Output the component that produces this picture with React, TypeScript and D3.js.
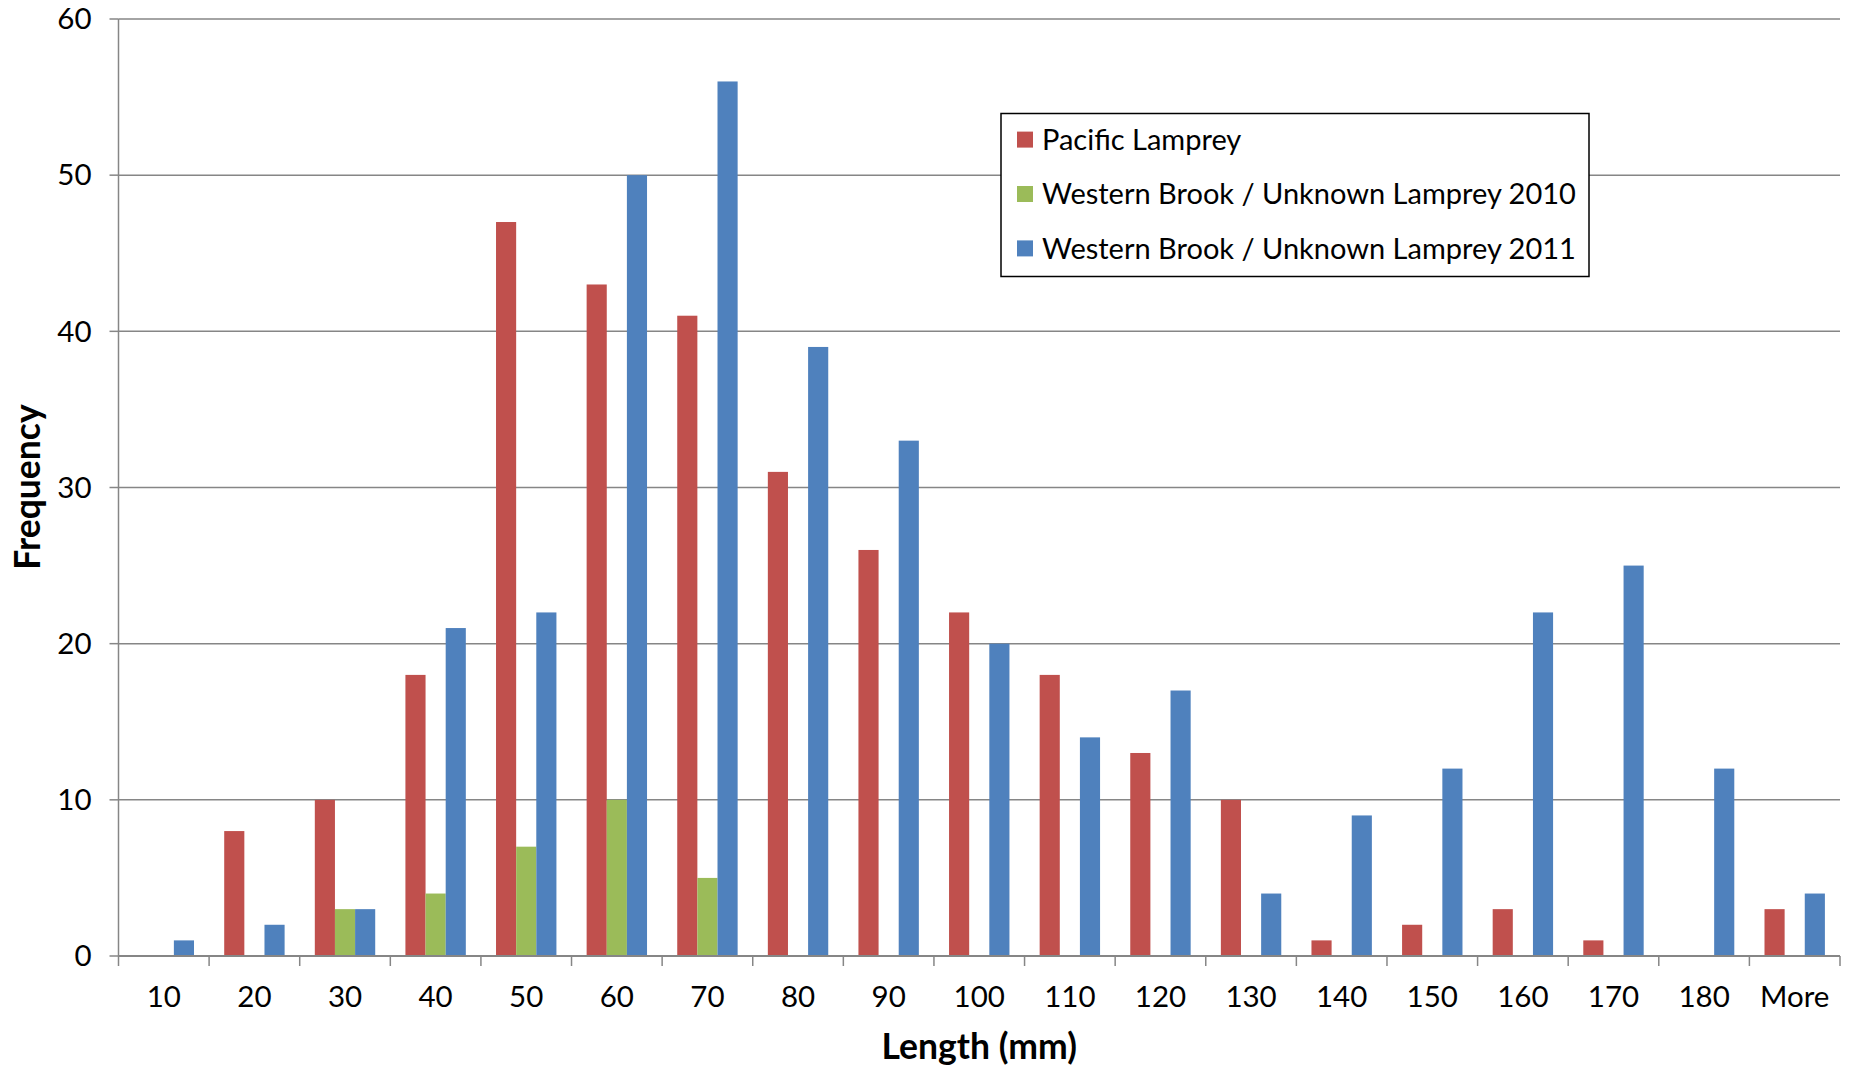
import React from "react";
import * as d3 from "d3";

const categories = ["10", "20", "30", "40", "50", "60", "70", "80", "90", "100", "110", "120", "130", "140", "150", "160", "170", "180", "More"];
const pacific = [0, 8, 10, 18, 47, 43, 41, 31, 26, 22, 18, 13, 10, 1, 2, 3, 1, 0, 3];
const western2010 = [0, 0, 3, 4, 7, 10, 5, 0, 0, 0, 0, 0, 0, 0, 0, 0, 0, 0, 0];
const western2011 = [1, 2, 3, 21, 22, 50, 56, 39, 33, 20, 14, 17, 4, 9, 12, 22, 25, 12, 4];
const seriesNames = ["Pacific Lamprey", "Western Brook / Unknown Lamprey 2010", "Western Brook / Unknown Lamprey 2011"];
const seriesColors = ["#C0504D", "#9BBB59", "#4F81BD"];
const yTicks = [0, 10, 20, 30, 40, 50, 60];

const W = 1855;
const H = 1070;
const margin = { left: 118.5, right: 15, top: 19, bottom: 114 };
const FONT = "Lato, 'Open Sans', sans-serif";

export default function App() {
  const series = [pacific, western2010, western2011];
  const x0 = d3.scaleBand<string>().domain(categories).range([margin.left, W - margin.right]).paddingInner(0).paddingOuter(0);
  // Excel-style 150% gap: the bar group takes 3 of 4.5 slots
  const groupPad = (x0.bandwidth() * 1.5) / 4.5 / 2;
  const x1 = d3.scaleBand<number>().domain([0, 1, 2]).range([groupPad, x0.bandwidth() - groupPad]).padding(0);
  const y = d3.scaleLinear().domain([0, 60]).range([H - margin.bottom, margin.top]);
  const plotLeft = margin.left;
  const plotRight = W - margin.right;
  const base = y(0);
  const tickEdges = categories.map((c) => x0(c)!).concat([plotRight]);

  return (
    <svg width={W} height={H} style={{ display: "block", position: "absolute", left: 0, top: 0, background: "#fff" }} fontFamily={FONT}>
      {/* horizontal gridlines and y ticks */}
      {yTicks.map((t) => (
        <g key={t}>
          {t > 0 && <line x1={plotLeft} x2={plotRight} y1={y(t)} y2={y(t)} stroke="#868686" strokeWidth={1.5} />}
          <line x1={plotLeft - 9} x2={plotLeft} y1={y(t)} y2={y(t)} stroke="#868686" strokeWidth={1.5} />
          <text x={plotLeft - 27} y={y(t)} dy="0.35em" textAnchor="end" fontSize={29.5} fill="#000">{t}</text>
        </g>
      ))}
      {/* bars */}
      {series.map((vals, si) =>
        vals.map((v, i) =>
          v > 0 ? (
            <rect key={`${si}-${i}`} x={x0(categories[i])! + x1(si)!} y={y(v)} width={x1.bandwidth()} height={base - y(v)} fill={seriesColors[si]} />
          ) : null
        )
      )}
      {/* axes */}
      <line x1={plotLeft} x2={plotLeft} y1={y(60)} y2={base} stroke="#868686" strokeWidth={1.5} />
      <line x1={plotLeft} x2={plotRight} y1={base} y2={base} stroke="#868686" strokeWidth={2} />
      {tickEdges.map((e, i) => (
        <line key={i} x1={e} x2={e} y1={base} y2={base + 10} stroke="#868686" strokeWidth={1.5} />
      ))}
      {categories.map((c) => (
        <text key={c} x={x0(c)! + x0.bandwidth() / 2} y={997} dy="0.35em" textAnchor="middle" fontSize={29.5} fill="#000">{c}</text>
      ))}
      {/* axis titles */}
      <text x={(plotLeft + plotRight) / 2} y={1047} dy="0.35em" textAnchor="middle" fontSize={35.5} fontWeight="bold" fill="#000">Length (mm)</text>
      <text transform={`translate(28,487) rotate(-90)`} dy="0.35em" textAnchor="middle" fontSize={35.5} fontWeight="bold" fill="#000">Frequency</text>
      {/* legend */}
      <rect x={1001} y={113.5} width={588} height={163} fill="#fff" stroke="#000" strokeWidth={1.5} />
      {seriesNames.map((n, i) => (
        <g key={n}>
          <rect x={1017} y={139.6 + i * 54.4 - 8} width={16} height={16} fill={seriesColors[i]} />
          <text x={1042} y={139.6 + i * 54.4} dy="0.35em" fontSize={29} fill="#000">{n}</text>
        </g>
      ))}
    </svg>
  );
}
